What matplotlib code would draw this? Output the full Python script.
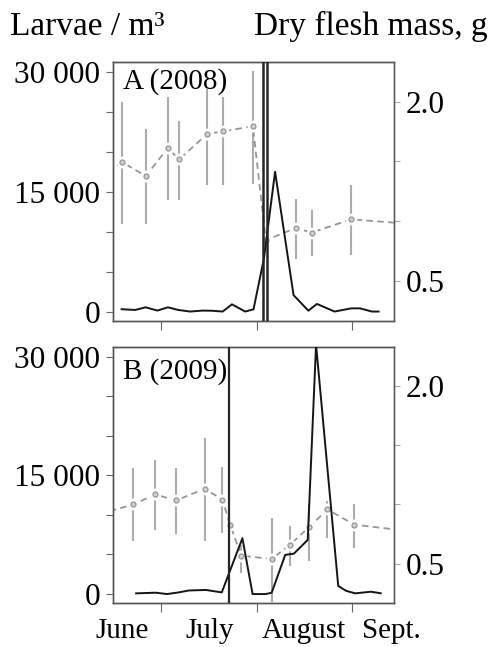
import matplotlib
matplotlib.use("Agg")
import matplotlib.pyplot as plt
import numpy as np

plt.rcParams['font.family'] = ['Liberation Serif', 'DejaVu Serif']

# x values: days since 1 June
# ---- Panel A (2008) ----
larvae_A_day = [17.2, 21.6, 25.0, 28.8, 32.2, 35.6, 39.4, 43.5, 46.5, 50.0, 53.0, 57.3,
                60.0, 63.4, 67.0, 73.0, 77.8, 80.6, 86.3, 91.7, 94.6, 98.4, 100.6]
larvae_A = [340, 250, 580, 170, 580, 250, 50, 170, 150, 50, 950, 50,
            330, 6700, 17500, 2100, 160, 1000, 50, 450, 450, 50, 50]

mass_A_day = [10.0, 17.4, 25.0, 32.2, 35.9, 45.0, 50.0, 59.8, 64.0, 73.7, 78.9, 91.7, 110.0]
mass_A = [1.36, 1.494, 1.378, 1.611, 1.517, 1.731, 1.75, 1.794, 0.842, 0.944, 0.906, 1.017, 0.98]
mass_A_lo = [np.nan, 0.981, 0.981, 1.175, 1.175, 1.30, 1.30, 1.314, np.nan, 0.689, 0.708, 0.717, np.nan]
mass_A_hi = [np.nan, 1.994, 1.767, 2.036, 1.836, 2.106, 2.036, 2.258, np.nan, 1.189, 1.092, 1.30, np.nan]
vlines_A = [63.0, 64.25]

# ---- Panel B (2009) ----
larvae_B_day = [21.9, 28.3, 31.9, 35.6, 39.0, 44.5, 49.7, 56.4, 59.7, 63.9, 65.9, 70.3,
                73.1, 77.6, 80.3, 87.5, 90.1, 93.0, 98.1, 101.3]
larvae_B = [90, 170, 0, 200, 450, 520, 210, 7050, 0, 0, 165, 4950,
            5100, 6840, 31500, 1020, 400, 90, 295, 100]

mass_B_day = [10.0, 21.0, 28.1, 34.9, 44.1, 49.9, 52.4, 56.0, 65.9, 71.9, 78.1, 84.0, 92.7, 110.0]
mass_B = [0.919, 1.0, 1.085, 1.034, 1.133, 1.042, 0.83, 0.568, 0.54, 0.661, 0.811, 0.958, 0.83, 0.776]
mass_B_lo = [np.nan, 0.689, 0.788, 0.752, 0.689, 0.76, np.nan, 0.42, 0.18, 0.477, 0.52, 0.718, 0.633, np.nan]
mass_B_hi = [np.nan, 1.305, 1.375, 1.305, 1.565, 1.32, np.nan, 0.66, 0.887, 0.816, 1.0, 1.028, 1.0, np.nan]
vlines_B = [52.2]

month_ticks = [30, 61, 92]
month_label_pos = [17.3, 45.9, 76.4, 104.6]
month_labels = ['June', 'July', 'August', 'Sept.']
left_ticks = [0, 5000, 10000, 15000, 20000, 25000, 30000]
left_labels = ['0', '', '', '15 000', '', '', '30 000']
right_ticks = [0.5, 1.0, 1.5, 2.0]
right_labels = ['0.5', '', '', '2.0']

FS = 22.5
W, H = 492, 647
fig = plt.figure(figsize=(W / 100, H / 100), dpi=100)

def make_panel(rect, label, label_y, lday, lval, mday, mval, mlo, mhi, vls, vlw, show_months):
    ax = fig.add_axes(rect)
    ax2 = ax.twinx()
    ax.set_zorder(2)
    ax2.set_zorder(1)
    ax.patch.set_visible(False)

    # gray: dry flesh mass
    for d, lo, hi in zip(mday, mlo, mhi):
        if not np.isnan(lo):
            ax2.plot([d, d], [lo, hi], color='#acacac', lw=1.5, solid_capstyle='butt', zorder=1)
    ax2.plot(mday, mval, color='#969696', lw=1.3, ls=(0, (3.6, 2.4)), zorder=2)
    ax2.plot(mday, mval, ls='none', marker='o', ms=7.5, mfc='white', mec='white', zorder=3)
    ax2.plot(mday, mval, ls='none', marker='o', ms=3.6, mfc='#d0d0d0', mec='#969696', mew=0.9, zorder=4)
    ax2.set_ylim(0.168, 2.33)
    ax2.set_yticks(right_ticks)
    ax2.set_yticklabels(right_labels)
    ax2.tick_params(axis='y', length=4.5, width=0.8, color='#aaaaaa', pad=4, labelsize=FS)

    # black: larvae
    ax.plot(lday, lval, color='#151515', lw=1.4, zorder=3)
    for v in vls:
        ax.axvline(v, color='#262626', lw=vlw, zorder=4)
    ax.set_ylim(-1130, 31200)
    ax.set_xlim(14.4, 105.6)
    ax.set_yticks(left_ticks)
    ax.set_yticklabels(left_labels)
    ax.tick_params(axis='y', length=5, width=0.8, color='#666666', pad=4, labelsize=FS)
    ax.set_xticks(month_ticks)
    ax.tick_params(axis='x', which='major', length=6.5, width=0.8, color='#666666')
    if show_months:
        ax.set_xticks(month_label_pos, minor=True)
        ax.set_xticklabels(month_labels, minor=True)
        ax.tick_params(axis='x', which='minor', length=0, pad=11, labelsize=21)
    ax.set_xticklabels([])
    for a in (ax, ax2):
        for s in a.spines.values():
            s.set_color('#555555')
            s.set_linewidth(1.0)
    ax2.spines['right'].set_color('#8a8a8a')
    ax.text(0.035, label_y, label, transform=ax.transAxes, ha='left', va='top', fontsize=21)
    return ax

make_panel([113 / W, 1 - 321 / H, 281 / W, 259 / H], 'A (2008)', 0.975,
           larvae_A_day, larvae_A, mass_A_day, mass_A, mass_A_lo, mass_A_hi, vlines_A, 1.8, False)
make_panel([113 / W, 1 - 603 / H, 281 / W, 256 / H], 'B (2009)', 0.955,
           larvae_B_day, larvae_B, mass_B_day, mass_B, mass_B_lo, mass_B_hi, vlines_B, 1.6, True)

fig.text(10 / W, 1 - 35 / H, 'Larvae / m³', ha='left', va='baseline', fontsize=24)
fig.text(488 / W, 1 - 35 / H, 'Dry flesh mass, g', ha='right', va='baseline', fontsize=24)

fig.savefig('out.png', dpi=100)
